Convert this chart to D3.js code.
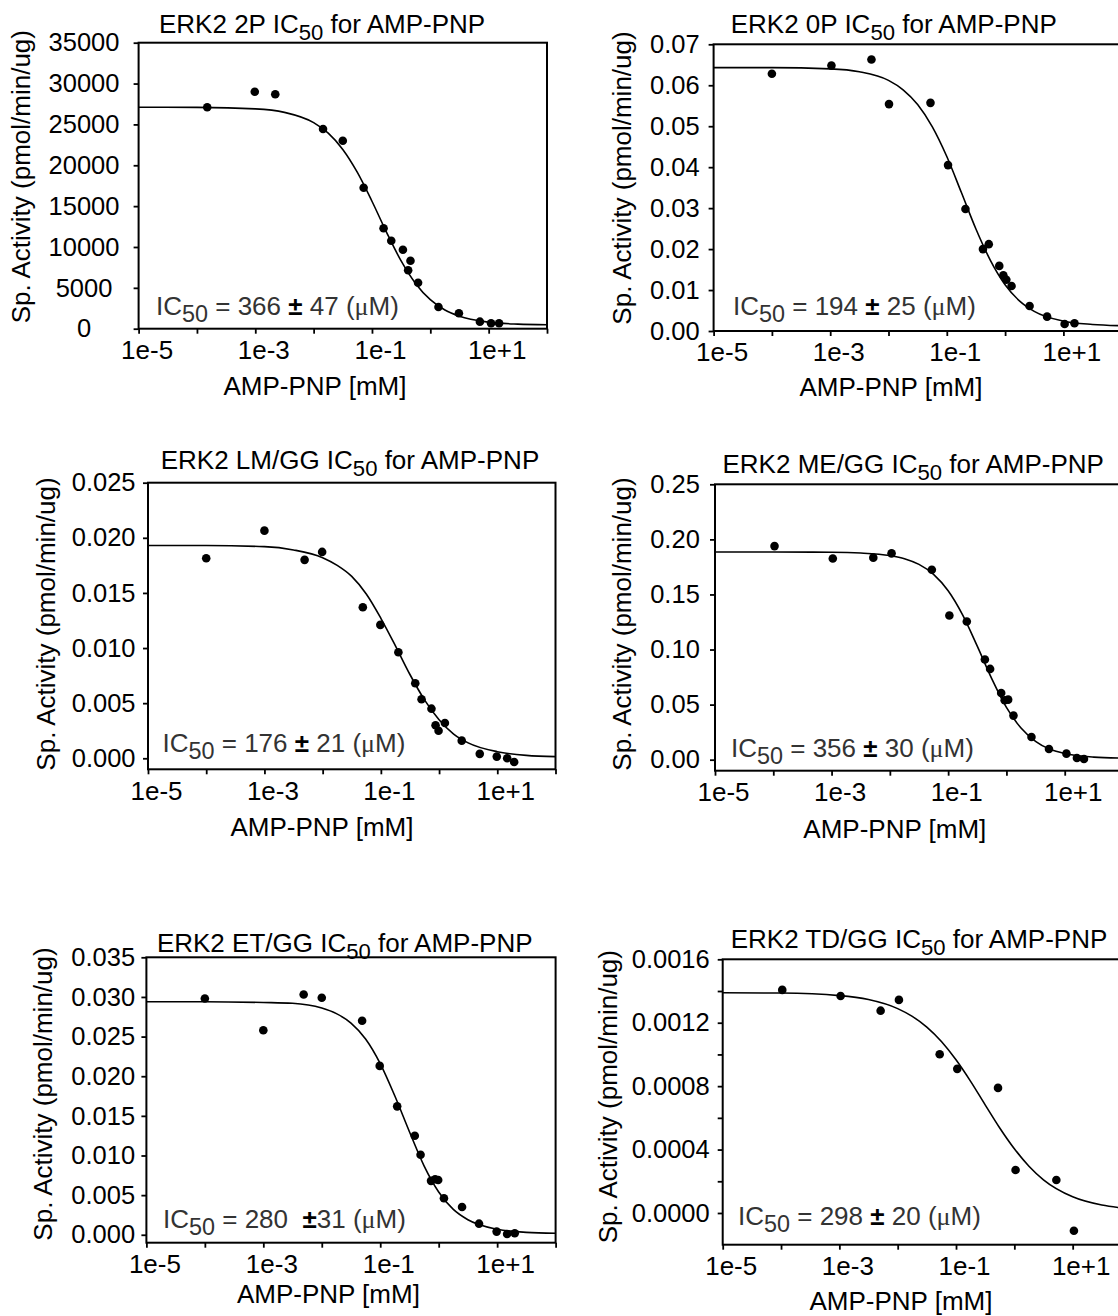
<!DOCTYPE html>
<html>
<head>
<meta charset="utf-8">
<script src="https://cdn.jsdelivr.net/npm/d3@7"></script>
<style>
  body { margin: 0; background: #fff; }
  svg { display: block; font-family: "Liberation Sans", Arial, sans-serif; }
</style>
</head>
<body>
<div id="chart"></div>
<script>
// ---- data (concentrations in mM) ----
var titles = ["ERK2 2P", "ERK2 0P", "ERK2 LM/GG", "ERK2 ME/GG", "ERK2 ET/GG", "ERK2 TD/GG"];
var icText = ["366 ± 47", "194 ± 25", "176 ± 21", "356 ± 30", "280  ±31", "298 ± 20"];

var xTicks = [1e-5, 1e-4, 1e-3, 1e-2, 1e-1, 1, 10, 100];
var xTickLabels = ["1e-5", "", "1e-3", "", "1e-1", "", "1e+1", ""];

var yMin = [0, 0, -0.001, -0.01, -0.001, -0.0002];
var yMax = [35000, 0.07, 0.025, 0.25, 0.035, 0.0016];

var yTicks2P = [0, 5000, 10000, 15000, 20000, 25000, 30000, 35000];
var yLabels2P = ["0", "5000", "10000", "15000", "20000", "25000", "30000", "35000"];
var yTicks0P = [0, 0.01, 0.02, 0.03, 0.04, 0.05, 0.06, 0.07];
var yLabels0P = ["0.00", "0.01", "0.02", "0.03", "0.04", "0.05", "0.06", "0.07"];
var yTicksLM = [0, 0.005, 0.01, 0.015, 0.02, 0.025];
var yLabelsLM = ["0.000", "0.005", "0.010", "0.015", "0.020", "0.025"];
var yTicksME = [0, 0.05, 0.1, 0.15, 0.2, 0.25];
var yLabelsME = ["0.00", "0.05", "0.10", "0.15", "0.20", "0.25"];
var yTicksET = [0, 0.005, 0.01, 0.015, 0.02, 0.025, 0.03, 0.035];
var yLabelsET = ["0.000", "0.005", "0.010", "0.015", "0.020", "0.025", "0.030", "0.035"];
var yTicksTD = [0, 0.0002, 0.0004, 0.0006, 0.0008, 0.001, 0.0012, 0.0014, 0.0016];
var yLabelsTD = ["0.0000", "", "0.0004", "", "0.0008", "", "0.0012", "", "0.0016"];

var conc2P = [0.00015, 0.00098, 0.0022, 0.0145, 0.0316, 0.072, 0.158, 0.214, 0.339, 0.457, 0.417, 0.617, 1.38, 3.09, 7.08, 11.0, 15.1];
var act2P = [27100, 29000, 28700, 24440, 23000, 17250, 12290, 10770, 9670, 8320, 7150, 5630, 2660, 1890, 860, 660, 660];

var conc0P = [0.0001, 0.00105, 0.0051, 0.0102, 0.0525, 0.105, 0.209, 0.417, 0.525, 0.794, 0.933, 1.05, 1.29, 2.63, 5.25, 10.5, 15.5];
var act0P = [0.0628, 0.0648, 0.0663, 0.0554, 0.0557, 0.0405, 0.0298, 0.0200, 0.0212, 0.0159, 0.0136, 0.0125, 0.0110, 0.0061, 0.0035, 0.0017, 0.0019];

var concLM = [0.0001, 0.001, 0.0049, 0.0098, 0.049, 0.098, 0.2, 0.39, 0.5, 0.74, 0.87, 0.98, 1.26, 2.45, 5.0, 9.8, 14.8, 19.5];
var actLM = [0.01815, 0.02065, 0.0180, 0.01872, 0.0137, 0.0121, 0.00962, 0.0068, 0.00535, 0.0045, 0.0030, 0.0025, 0.0032, 0.0016, 0.0004, 0.00015, 0.0, -0.00034];

var concME = [0.000105, 0.00105, 0.0052, 0.0107, 0.0525, 0.105, 0.209, 0.427, 0.525, 0.813, 0.933, 1.07, 1.32, 2.69, 5.37, 10.7, 16.2, 21.4];
var actME = [0.1939, 0.1827, 0.1834, 0.1873, 0.1724, 0.1309, 0.1254, 0.0909, 0.0824, 0.0606, 0.0539, 0.0545, 0.0400, 0.0206, 0.0097, 0.0055, 0.0015, 0.0006];

var concET = [0.0001, 0.001, 0.0049, 0.01, 0.049, 0.098, 0.195, 0.39, 0.49, 0.74, 0.87, 0.98, 1.23, 2.51, 4.9, 9.8, 14.8, 20];
var actET = [0.0298, 0.0258, 0.0303, 0.0299, 0.0270, 0.0213, 0.0162, 0.0125, 0.0101, 0.0068, 0.0070, 0.0069, 0.0046, 0.0035, 0.0014, 0.0004, 0.0001, 0.0002];

var concTD = [0.000105, 0.00105, 0.0051, 0.0105, 0.0525, 0.105, 0.525, 1.05, 5.25, 10.5];
var actTD = [0.001407, 0.001369, 0.001276, 0.001344, 0.001001, 0.000909, 0.000789, 0.000271, 0.000208, -0.000112];

// fitted curves
var curveConc = [0.00001, 0.0001, 0.001, 0.00316, 0.01, 0.0178, 0.0316, 0.0562, 0.1, 0.178, 0.316, 0.562, 1, 1.78, 3.16, 10, 31.6, 100];
var fit2P = [27100, 27080, 26900, 26475, 25220, 23930, 21940, 19130, 15600, 11800, 8290, 5510, 3550, 2290, 1520, 800, 560, 485];
var fit0P = [0.0643, 0.0643, 0.0640, 0.0633, 0.0612, 0.0589, 0.0553, 0.0499, 0.0426, 0.0338, 0.0249, 0.0172, 0.0113, 0.0073, 0.0048, 0.0024, 0.0016, 0.0013];
var fitLM = [0.0193, 0.0193, 0.0192, 0.0189, 0.0182, 0.0175, 0.0165, 0.0149, 0.0127, 0.0102, 0.0076, 0.0053, 0.0035, 0.0022, 0.0014, 0.0006, 0.00026, 0.00015];
var fitME = [0.1885, 0.1885, 0.1883, 0.1876, 0.1853, 0.1825, 0.1773, 0.1683, 0.1534, 0.1313, 0.1031, 0.0734, 0.0475, 0.0287, 0.0166, 0.0056, 0.0023, 0.0014];
var fitET = [0.0294, 0.0294, 0.0293, 0.0292, 0.0286, 0.0279, 0.0267, 0.0247, 0.0216, 0.0175, 0.0130, 0.0087, 0.0054, 0.0032, 0.0019, 0.0007, 0.0003, 0.0002];
var fitTD = [0.001389, 0.001387, 0.001371, 0.001346, 0.001289, 0.001240, 0.001172, 0.001081, 0.000966, 0.000830, 0.000682, 0.000536, 0.000405, 0.000295, 0.000209, 0.000102, 0.000050, 0.000027];

var concs = [conc2P, conc0P, concLM, concME, concET, concTD];
var acts = [act2P, act0P, actLM, actME, actET, actTD];
var fits = [fit2P, fit0P, fitLM, fitME, fitET, fitTD];
var yTicks = [yTicks2P, yTicks0P, yTicksLM, yTicksME, yTicksET, yTicksTD];
var yLabels = [yLabels2P, yLabels0P, yLabelsLM, yLabelsME, yLabelsET, yLabelsTD];

// ---- layout (pixels) ----
var layout = [
  {l: 138.6, r: 547,   t: 42.7,  b: 328.7,  tickCx: 84,    title: [159, 33.3],   ic: [156, 315],    xl: [315, 395],    yl: [30.4, 176.7]},
  {l: 713.6, r: 1121.7, t: 44.3, b: 331,    tickCx: 674.8, title: [730.7, 33.3], ic: [733, 315],    xl: [891, 396],    yl: [631.4, 178]},
  {l: 148,   r: 555.5, t: 482.7, b: 769.3,  tickCx: 103.6, title: [160.7, 469.3], ic: [162.5, 751.7], xl: [322, 836],  yl: [55.4, 624]},
  {l: 715,   r: 1123,  t: 484.3, b: 770.7,  tickCx: 675,   title: [722.5, 473.3], ic: [731, 756.7],  xl: [894.8, 838],  yl: [631.4, 624]},
  {l: 146.4, r: 555.6, t: 957.3, b: 1242.7, tickCx: 103.2, title: [156.9, 951.7], ic: [163, 1228.3], xl: [328.4, 1303.3], yl: [52, 1094]},
  {l: 722.7, r: 1131,  t: 959.3, b: 1244.7, tickCx: 670.7, title: [730.7, 948.3], ic: [738, 1225],   xl: [901, 1310],   yl: [617, 1096.7]}
];

var FS = 26;      // titles, labels, annotation
var FS_TICK = 25.5;

var svg = d3.select("#chart").append("svg")
  .attr("width", 1118)
  .attr("height", 1316);

svg.append("rect").attr("width", 1118).attr("height", 1316).attr("fill", "#fff");

layout.forEach(function (p, i) {
  var x = d3.scaleLog().domain([1e-5, 1e2]).range([p.l, p.r]);
  var y = d3.scaleLinear().domain([yMin[i], yMax[i]]).range([p.b, p.t]);
  var g = svg.append("g");

  var clipId = "clip" + i;
  svg.append("clipPath").attr("id", clipId)
    .append("rect").attr("x", p.l).attr("y", p.t).attr("width", p.r - p.l).attr("height", p.b - p.t);

  // x axis
  var xa = g.append("g")
    .attr("transform", "translate(0," + p.b + ")")
    .call(d3.axisBottom(x).tickValues(xTicks).tickSize(5).tickPadding(7)
      .tickFormat(function (d, k) { return xTickLabels[k]; }));
  xa.select(".domain").remove();
  xa.selectAll("line").attr("stroke", "#000").attr("stroke-width", 1.8);
  xa.selectAll("text").attr("font-size", FS).attr("font-family", null).attr("fill", "#000").attr("dx", 8);

  // y axis
  var ya = g.append("g")
    .attr("transform", "translate(" + p.l + ",0)")
    .call(d3.axisLeft(y).tickValues(yTicks[i]).tickSize(5)
      .tickFormat(function (d, k) { return yLabels[i][k]; }));
  ya.select(".domain").remove();
  ya.selectAll("line").attr("stroke", "#000").attr("stroke-width", 1.8);
  ya.selectAll("text").attr("font-size", FS_TICK).attr("font-family", null).attr("fill", "#000")
    .attr("text-anchor", "middle").attr("x", p.tickCx - p.l);

  // frame
  g.append("rect")
    .attr("x", p.l).attr("y", p.t)
    .attr("width", p.r - p.l).attr("height", p.b - p.t)
    .attr("fill", "none").attr("stroke", "#000").attr("stroke-width", 2);

  // fitted curve
  var line = d3.line()
    .x(function (d) { return x(d[0]); })
    .y(function (d) { return y(d[1]); })
    .curve(d3.curveMonotoneX);
  g.append("path")
    .datum(d3.zip(curveConc, fits[i]))
    .attr("clip-path", "url(#" + clipId + ")")
    .attr("d", line)
    .attr("fill", "none").attr("stroke", "#000").attr("stroke-width", 1.6);

  // data points
  g.selectAll(".dot")
    .data(d3.zip(concs[i], acts[i]))
    .enter().append("circle")
      .attr("class", "dot")
      .attr("cx", function (d) { return x(d[0]); })
      .attr("cy", function (d) { return y(d[1]); })
      .attr("r", 4.3)
      .attr("fill", "#000");

  // title
  var t = g.append("text").attr("x", p.title[0]).attr("y", p.title[1]).attr("font-size", FS);
  t.append("tspan").text(titles[i] + " IC");
  t.append("tspan").attr("font-size", "0.85em").attr("dy", 7).text("50");
  t.append("tspan").attr("dy", -7).text(" for AMP-PNP");

  // IC50 annotation
  var parts = icText[i].split("±");
  var a = g.append("text").attr("x", p.ic[0]).attr("y", p.ic[1]).attr("font-size", FS)
    .attr("fill", "#333").style("white-space", "pre");
  a.append("tspan").text("IC");
  a.append("tspan").attr("font-size", "0.9em").attr("dy", 7).text("50");
  a.append("tspan").attr("dy", -7).text(" = " + parts[0]);
  a.append("tspan").attr("font-weight", "bold").attr("fill", "#000").text("±");
  a.append("tspan").text(parts[1] + " (");
  a.append("tspan").attr("font-family", "'Liberation Serif', serif").text("μ");
  a.append("tspan").text("M)");

  // axis titles
  g.append("text").attr("x", p.xl[0]).attr("y", p.xl[1]).attr("font-size", FS)
    .attr("text-anchor", "middle").text("AMP-PNP [mM]");
  g.append("text")
    .attr("transform", "translate(" + p.yl[0] + "," + p.yl[1] + ") rotate(-90)")
    .attr("font-size", FS).attr("text-anchor", "middle")
    .text("Sp. Activity (pmol/min/ug)");
});
</script>
</body>
</html>
